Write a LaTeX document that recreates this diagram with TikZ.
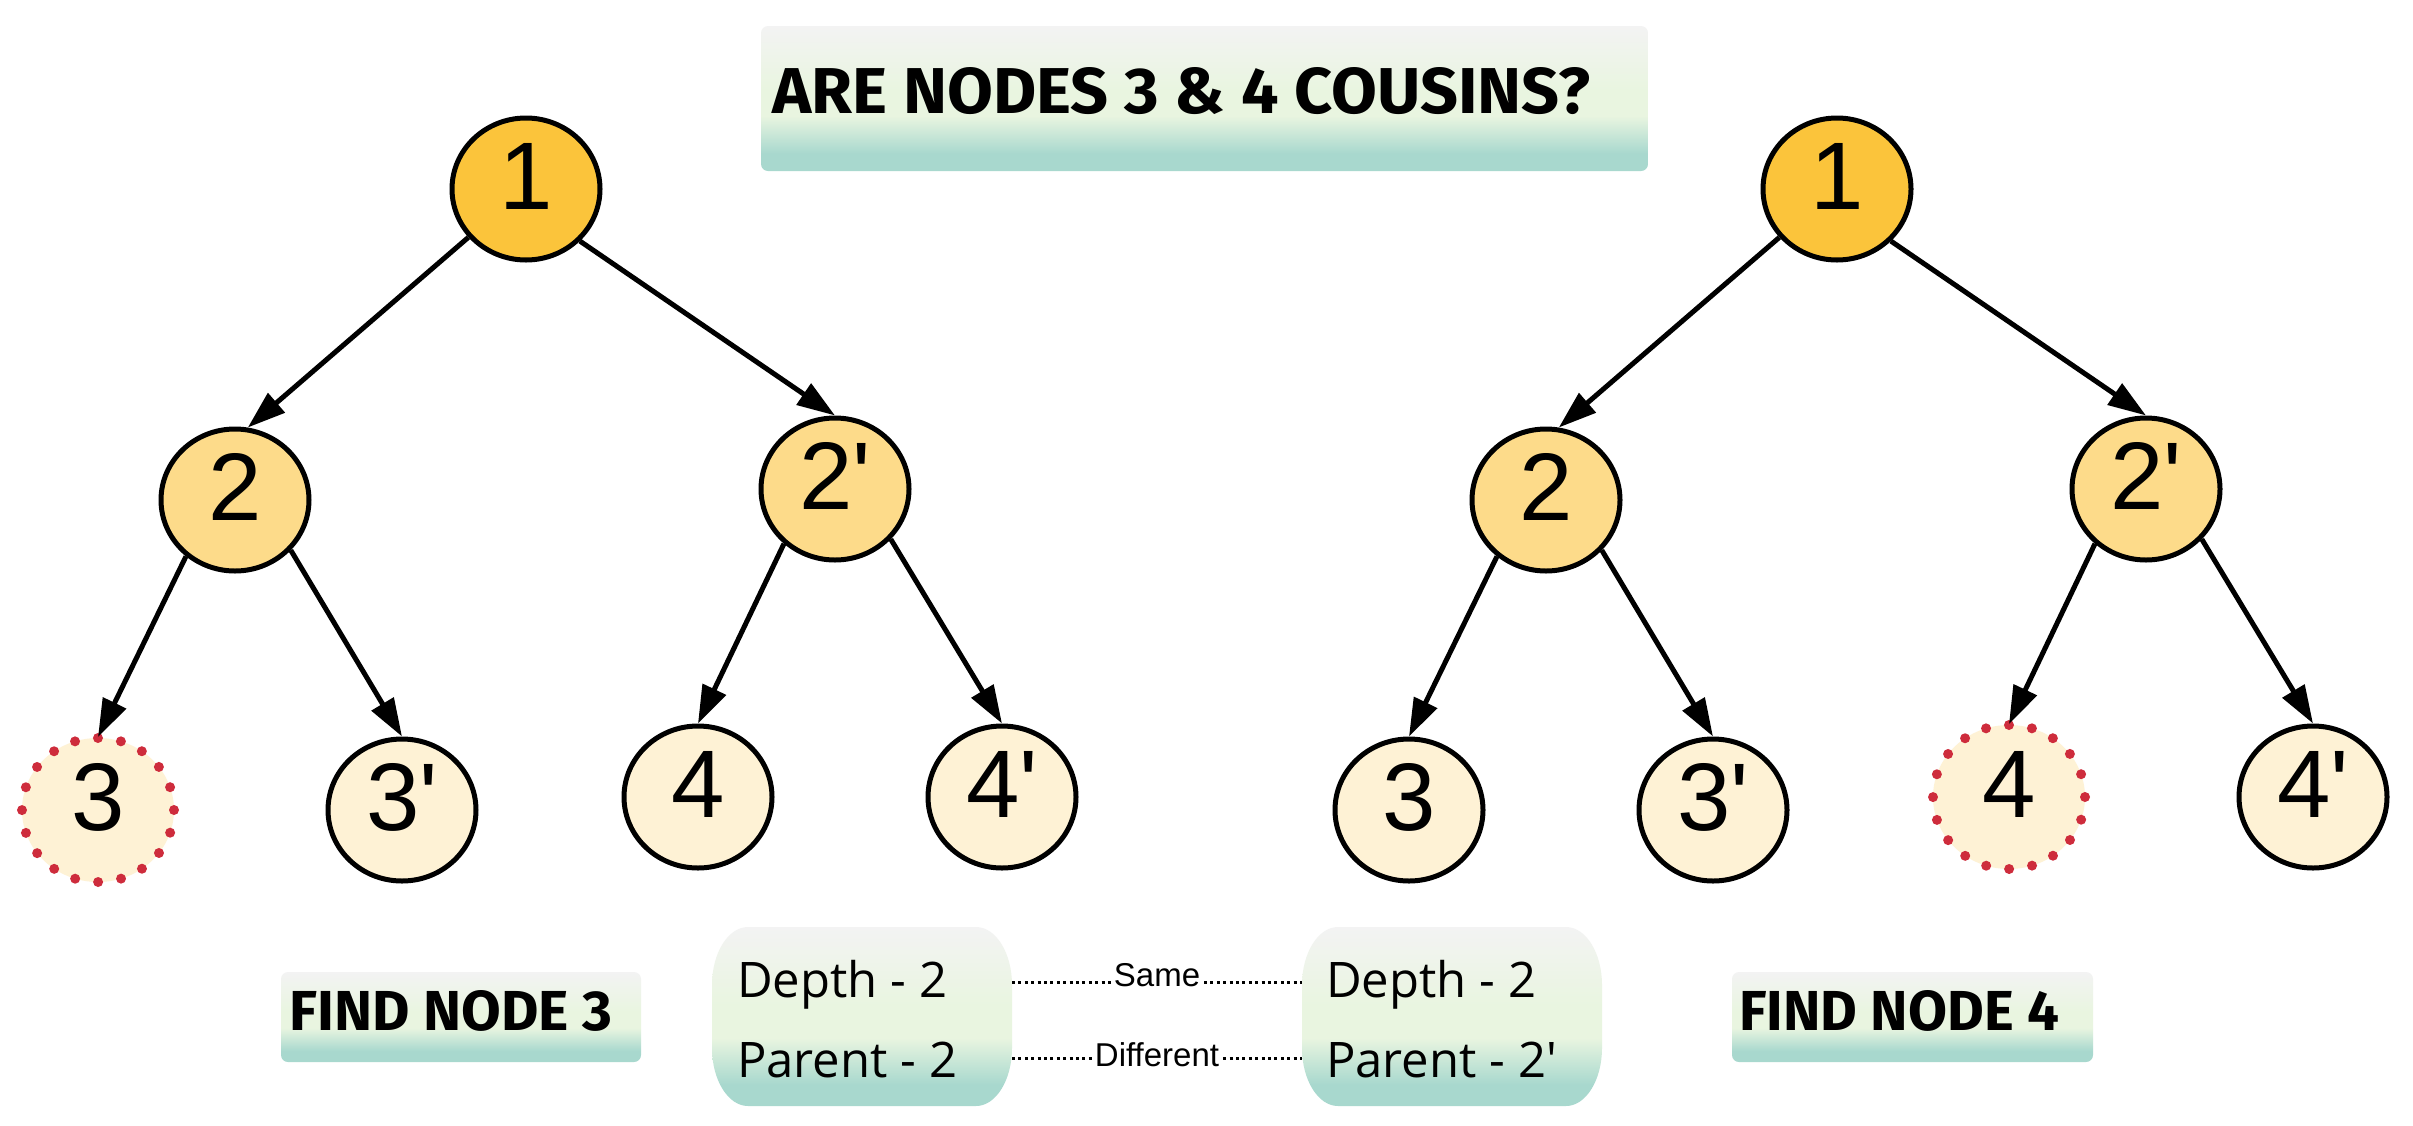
\documentclass[tikz,border=0pt]{standalone}
\usepackage{fontspec}
\usepackage{graphicx}
\setmainfont{Liberation Sans}
\newfontfamily\osans{Open Sans}
\newfontfamily\tfont{Fira Sans}
\usetikzlibrary{arrows.meta,shapes.geometric}
\definecolor{rootc}{HTML}{FBC43B}
\definecolor{midc}{HTML}{FDDB8A}
\definecolor{leafc}{HTML}{FEF2D5}
\definecolor{reddot}{HTML}{CE2C3C}
\definecolor{tealc}{HTML}{A8D8CE}
\definecolor{greenc}{HTML}{E9F5E0}
\definecolor{grayc}{HTML}{F3F3F3}
\pgfdeclareverticalshading{boxshade}{100bp}{color(0bp)=(tealc); color(31bp)=(tealc); color(44bp)=(greenc); color(53bp)=(greenc); color(75bp)=(grayc); color(100bp)=(grayc)}
\newcommand\pillbox[4]{% x0 y0 x1 y1
  \path[shading=boxshade]
    ({#1+36},#2) -- ({#3-36},#2)
    arc[start angle=270,end angle=360,x radius=36,y radius=58]
    -- (#3,{#4-58})
    arc[start angle=0,end angle=90,x radius=36,y radius=58]
    -- ({#1+36},#4)
    arc[start angle=90,end angle=180,x radius=36,y radius=58]
    -- (#1,{#2+58})
    arc[start angle=180,end angle=270,x radius=36,y radius=58]
    -- cycle;}
\begin{document}
\begin{tikzpicture}[x=1pt,y=-1pt,
  tn/.style={ellipse, draw=black, line width=5pt, minimum width=148pt, minimum height=142pt,
    inner sep=0pt, text height=69pt, text depth=28pt, font=\fontsize{96}{96}\selectfont},
  rootn/.style={tn, fill=rootc},
  midn/.style={tn, fill=midc},
  leafn/.style={tn, fill=leafc},
  dotleaf/.style={ellipse, draw=reddot, fill=leafc, line width=10pt, dash pattern=on 0pt off 23.26pt,
    line cap=round, minimum width=152pt, minimum height=144pt, inner sep=0pt, outer sep=1pt,
    text height=69pt, text depth=28pt, font=\fontsize{96}{96}\selectfont},
  edge/.style={draw=black, line width=5pt, -{Triangle[length=38pt,width=25pt]}},
  dotline/.style={draw=black, line width=3pt, dash pattern=on 3pt off 3.4pt},
  lbl/.style={fill=white, inner xsep=3pt, inner ysep=1pt, font=\fontsize{33}{33}\selectfont},
  infotext/.style={anchor=base west, inner sep=0pt, font=\osans\fontsize{49}{49}\selectfont},
  headtext/.style={anchor=base west, inner sep=0pt}
]
\fill[white] (0,0) rectangle (2413,1125);
\useasboundingbox (0,0) rectangle (2413,1125);

% title
\path[shading=boxshade, rounded corners=7pt] (761,26) rectangle (1648,171);
\node[headtext] (title) at (772,113) {\resizebox{818pt}{46pt}{\tfont\bfseries ARE NODES 3 \& 4 COUSINS?}};

% left tree
\node[rootn] (n1) at (526,189) {1};
\node[midn] (n2) at (235,500) {2};
\node[midn] (n2p) at (835,489) {2\textquotesingle};
\node[dotleaf] (n3) at (98,810) {3};
\node[leafn] (n3p) at (402,810) {3\textquotesingle};
\node[leafn] (n4) at (698,797) {4};
\node[leafn] (n4p) at (1002,797) {4\textquotesingle};
\draw[edge] (n1.220) -- (n2.80);
\draw[edge] (n1.316) -- (n2p.north);
\draw[edge] (n2.229) -- (n3.north);
\draw[edge] (n2.318) -- (n3p.north);
\draw[edge] (n2p.227) -- (n4.north);
\draw[edge] (n2p.318) -- (n4p.north);

% right tree
\node[rootn] (m1) at (1837,189) {1};
\node[midn] (m2) at (1546,500) {2};
\node[midn] (m2p) at (2146,489) {2\textquotesingle};
\node[leafn] (m3) at (1409,810) {3};
\node[leafn] (m3p) at (1713,810) {3\textquotesingle};
\node[dotleaf] (m4) at (2009,797) {4};
\node[leafn] (m4p) at (2313,797) {4\textquotesingle};
\draw[edge] (m1.220) -- (m2.80);
\draw[edge] (m1.316) -- (m2p.north);
\draw[edge] (m2.229) -- (m3.north);
\draw[edge] (m2.318) -- (m3p.north);
\draw[edge] (m2p.227) -- (m4.north);
\draw[edge] (m2p.318) -- (m4p.north);

% find boxes
\path[shading=boxshade, rounded corners=7pt] (281,972) rectangle (641,1062);
\node[headtext] (f3) at (289,1030) {\resizebox{323pt}{40pt}{\tfont\bfseries FIND NODE 3}};
\path[shading=boxshade, rounded corners=7pt] (1732,972) rectangle (2093,1062);
\node[headtext] (f4) at (1739,1030) {\resizebox{320pt}{40pt}{\tfont\bfseries FIND NODE 4}};

% info boxes
\pillbox{712}{927}{1012}{1106}
\pillbox{1302}{927}{1602}{1106}
\node[infotext] (ld) at (737,997) {Depth - 2};
\node[infotext] (lp) at (737,1077) {Parent - 2};
\node[infotext] (rd) at (1326,997) {Depth - 2};
\node[infotext] (rp) at (1326,1077) {Parent - 2\textquotesingle};

\coordinate (ls) at (1012,982);
\coordinate (rs) at (1302,982);
\coordinate (ldf) at (1012,1058);
\coordinate (rdf) at (1302,1058);
\draw[dotline] (ls) -- node[lbl, yshift=7pt] (same) {Same} (rs);
\draw[dotline] (ldf) -- node[lbl, yshift=3pt] (diff) {Different} (rdf);
\end{tikzpicture}
\end{document}
